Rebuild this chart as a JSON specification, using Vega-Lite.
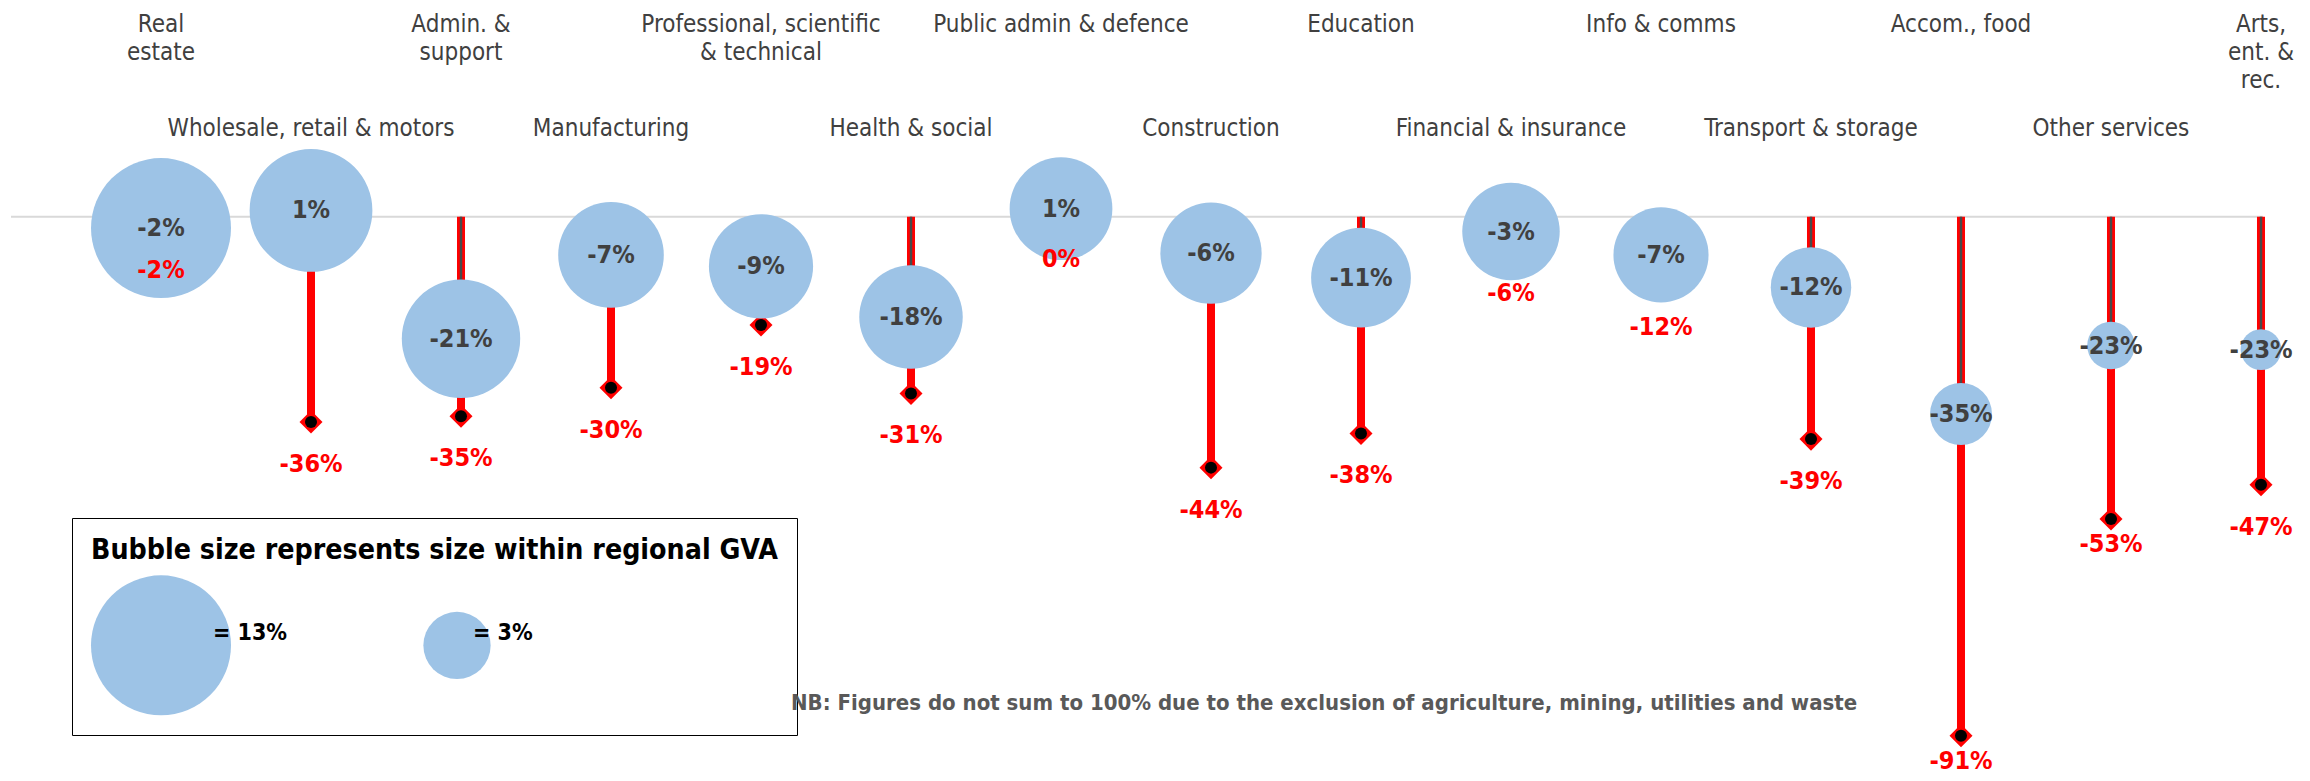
{
  "$schema": "https://vega.github.io/schema/vega-lite/v6.json",
  "width": 2252,
  "height": 781,
  "autosize": {"type": "none"},
  "padding": {"left": 11, "right": 47, "top": 0, "bottom": 0},
  "background": "white",
  "config": {
    "view": {"stroke": null},
    "locale": {"number": {"decimal": ".", "thousands": ",", "grouping": [3], "currency": ["", ""], "minus": "-"}}
  },
  "title": {
    "text": "NB: Figures do not sum to 100% due to the exclusion of agriculture, mining, utilities and waste",
    "orient": "bottom",
    "anchor": "start",
    "frame": "group",
    "dx": 780,
    "offset": -88,
    "font": "DejaVu Sans Condensed, Liberation Sans Narrow, DejaVu Sans, sans-serif",
    "fontSize": 22,
    "fontWeight": "bold",
    "color": "#595959"
  },
  "data": {
    "values": [
      {"sector": "Real\nestate", "bubble": -0.02, "red": -0.02, "share": 0.13},
      {"sector": "Wholesale, retail & motors", "bubble": 0.011, "red": -0.36, "share": 0.10},
      {"sector": "Admin. &\nsupport", "bubble": -0.214, "red": -0.35, "share": 0.093},
      {"sector": "Manufacturing", "bubble": -0.067, "red": -0.30, "share": 0.074},
      {"sector": "Professional, scientific\n& technical", "bubble": -0.087, "red": -0.19, "share": 0.072},
      {"sector": "Health & social", "bubble": -0.176, "red": -0.31, "share": 0.071},
      {"sector": "Public admin & defence", "bubble": 0.014, "red": 0.0, "share": 0.070},
      {"sector": "Construction", "bubble": -0.064, "red": -0.44, "share": 0.068},
      {"sector": "Education", "bubble": -0.107, "red": -0.38, "share": 0.066},
      {"sector": "Financial & insurance", "bubble": -0.026, "red": -0.06, "share": 0.063},
      {"sector": "Info & comms", "bubble": -0.067, "red": -0.12, "share": 0.060},
      {"sector": "Transport & storage", "bubble": -0.124, "red": -0.39, "share": 0.043},
      {"sector": "Accom., food", "bubble": -0.346, "red": -0.91, "share": 0.0255},
      {"sector": "Other services", "bubble": -0.226, "red": -0.53, "share": 0.015},
      {"sector": "Arts,\nent. &\nrec.", "bubble": -0.233, "red": -0.47, "share": 0.011}
    ]
  },
  "layer": [
    {
      "data": {"values": [{"zero": 0}]},
      "mark": {"type": "rule", "color": "#d9d9d9", "strokeWidth": 2},
      "encoding": {
        "y": {"field": "zero", "type": "quantitative", "scale": {"domain": [-0.9895, 0.38], "nice": false, "zero": false}, "axis": null}
      }
    },
    {
      "encoding": {
        "x": {
          "field": "sector",
          "type": "nominal",
          "sort": null,
          "scale": {
            "type": "point",
            "domain": ["Real\nestate", "Wholesale, retail & motors", "Admin. &\nsupport", "Manufacturing", "Professional, scientific\n& technical", "Health & social", "Public admin & defence", "Construction", "Education", "Financial & insurance", "Info & comms", "Transport & storage", "Accom., food", "Other services", "Arts,\nent. &\nrec."],
            "padding": 0.5067,
            "align": 0.9868
          },
          "axis": null
        }
      },
      "layer": [
        {
          "mark": {"type": "rule", "color": "#ff0000", "strokeWidth": 8},
          "encoding": {
            "y": {"field": "red", "type": "quantitative", "axis": null},
            "y2": {"datum": 0}
          }
        },
        {
          "mark": {"type": "rule", "color": "#4a4a4a", "strokeWidth": 2.5},
          "encoding": {
            "y": {"field": "bubble", "type": "quantitative", "axis": null},
            "y2": {"datum": 0}
          }
        },
        {
          "mark": {"type": "point", "shape": "diamond", "filled": true, "color": "#ff0000", "opacity": 1, "size": 530},
          "encoding": {"y": {"field": "red", "type": "quantitative", "axis": null}}
        },
        {
          "mark": {"type": "point", "shape": "circle", "filled": true, "color": "#000000", "opacity": 1, "size": 144},
          "encoding": {"y": {"field": "red", "type": "quantitative", "axis": null}}
        },
        {
          "mark": {"type": "point", "shape": "circle", "filled": true, "color": "#9dc3e6", "opacity": 1, "strokeWidth": 0},
          "encoding": {
            "y": {"field": "bubble", "type": "quantitative", "axis": null},
            "size": {
              "field": "share",
              "type": "quantitative",
              "scale": {"domain": [0, 0.13], "range": [0, 19600]},
              "legend": {
                "orient": "none",
                "legendX": 61,
                "legendY": 518,
                "direction": "horizontal",
                "title": "Bubble size represents size within regional GVA",
                "titleFont": "DejaVu Sans Condensed, Liberation Sans Narrow, DejaVu Sans, sans-serif",
                "titleFontSize": 28.3,
                "titleFontWeight": "bold",
                "titleColor": "#000000",
                "titlePadding": 10,
                "titleLimit": 1000,
                "titleAnchor": "start",
                "values": [0.13, 0.03],
                "labelExpr": "['= ' + format(datum.value, '.0%'), ' ']",
                "labelFont": "DejaVu Sans Condensed, Liberation Sans Narrow, DejaVu Sans, sans-serif",
                "labelFontSize": 23,
                "labelFontWeight": "bold",
                "labelColor": "#000000",
                "labelBaseline": "bottom",
                "labelOffset": -18,
                "labelLimit": 300,
                "symbolType": "circle",
                "symbolFillColor": "#9dc3e6",
                "symbolStrokeWidth": 0,
                "symbolOpacity": 1,
                "columnPadding": 135,
                "padding": 19,
                "strokeColor": "#000000",
                "fillColor": "#ffffff"
              }
            }
          }
        },
        {
          "mark": {"type": "text", "font": "DejaVu Sans Condensed, Liberation Sans Narrow, DejaVu Sans, sans-serif", "fontSize": 25, "fontWeight": "bold", "color": "#404040", "baseline": "middle", "align": "center"},
          "encoding": {
            "y": {"field": "bubble", "type": "quantitative", "axis": null},
            "text": {"field": "bubble", "type": "quantitative", "format": ".0%"}
          }
        },
        {
          "transform": [{"filter": "datum.sector != 'Accom., food' && datum.sector != 'Other services'"}],
          "mark": {"type": "text", "font": "DejaVu Sans Condensed, Liberation Sans Narrow, DejaVu Sans, sans-serif", "fontSize": 25, "fontWeight": "bold", "color": "#ff0000", "baseline": "middle", "align": "center", "dy": 42},
          "encoding": {
            "y": {"field": "red", "type": "quantitative", "axis": null},
            "text": {"field": "red", "type": "quantitative", "format": ".0%"}
          }
        },
        {
          "transform": [{"filter": "datum.sector == 'Accom., food' || datum.sector == 'Other services'"}],
          "mark": {"type": "text", "font": "DejaVu Sans Condensed, Liberation Sans Narrow, DejaVu Sans, sans-serif", "fontSize": 25, "fontWeight": "bold", "color": "#ff0000", "baseline": "middle", "align": "center", "dy": 25},
          "encoding": {
            "y": {"field": "red", "type": "quantitative", "axis": null},
            "text": {"field": "red", "type": "quantitative", "format": ".0%"}
          }
        },
        {
          "transform": [{"window": [{"op": "row_number", "as": "idx"}]}, {"filter": "datum.idx % 2 == 1"}],
          "mark": {"type": "text", "font": "DejaVu Sans Condensed, Liberation Sans Narrow, DejaVu Sans, sans-serif", "fontSize": 24, "color": "#404040", "baseline": "top", "align": "center", "lineBreak": "\n", "lineHeight": 28},
          "encoding": {
            "y": {"datum": 0.358, "type": "quantitative", "axis": null},
            "text": {"field": "sector"}
          }
        },
        {
          "transform": [{"window": [{"op": "row_number", "as": "idx"}]}, {"filter": "datum.idx % 2 == 0"}],
          "mark": {"type": "text", "font": "DejaVu Sans Condensed, Liberation Sans Narrow, DejaVu Sans, sans-serif", "fontSize": 24, "color": "#404040", "baseline": "middle", "align": "center"},
          "encoding": {
            "y": {"datum": 0.154, "type": "quantitative", "axis": null},
            "text": {"field": "sector"}
          }
        }
      ]
    }
  ]
}
